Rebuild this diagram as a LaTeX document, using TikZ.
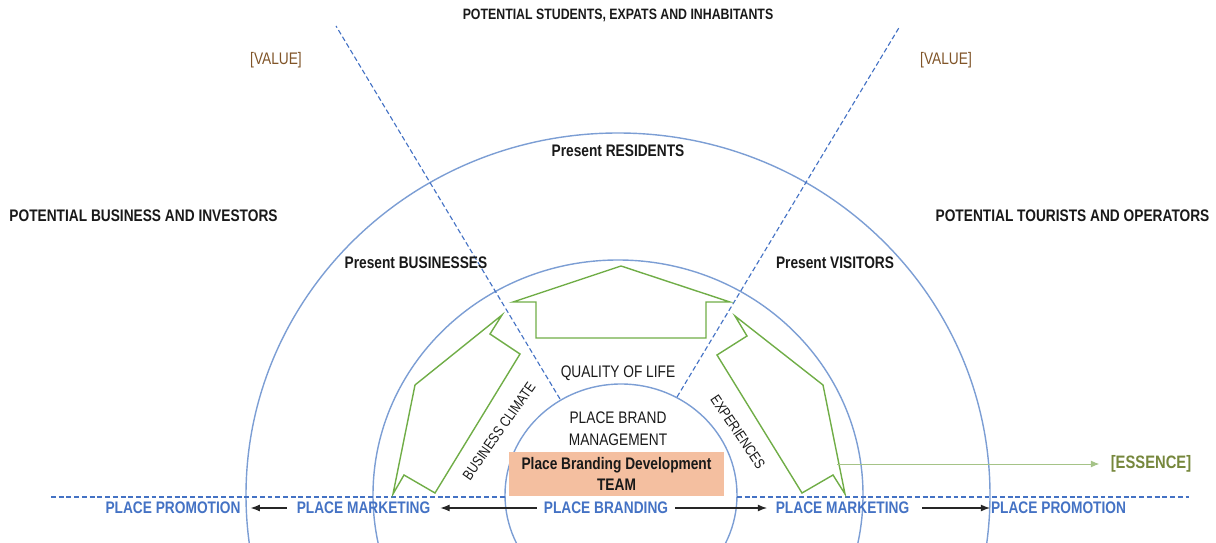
\documentclass[tikz,border=0pt]{standalone}
\usepackage{fontspec}
\newfontfamily\narrowsf[FakeStretch=0.82]{Liberation Sans}
\usetikzlibrary{arrows.meta,calc}

\definecolor{ringblue}{RGB}{124,158,212}
\definecolor{dashblue}{RGB}{68,114,196}
\definecolor{leafgreen}{RGB}{112,173,71}
\definecolor{paleleaf}{RGB}{165,195,135}
\definecolor{essgreen}{RGB}{118,135,60}
\definecolor{valuebrown}{RGB}{128,84,40}
\definecolor{teamfill}{RGB}{244,191,160}

\begin{document}
\begin{tikzpicture}[x=0.025cm,y=-0.025cm,>=Latex,
    every node/.style={font=\narrowsf\fontsize{11.9}{15.5}\selectfont,
      text=black!90,inner sep=0pt,align=center},
    bold/.style={font=\narrowsf\bfseries\fontsize{11.9}{15}\selectfont},
    slanted label/.style={font=\narrowsf\fontsize{10.4}{12}\selectfont},
    flow/.style={bold,text=dashblue},
    ring/.style={draw=ringblue,line width=1pt},
    ray/.style={draw=dashblue,line width=0.8pt,dash pattern=on 3.5pt off 2pt},
    leaf/.style={draw=leafgreen,line width=1pt},
    step arrow/.style={->,draw=black!85,line width=0.8pt}]
  \clip (0,0) rectangle (1216,543);

  % rings round the team
  \coordinate (c) at (618,495);
  \draw[ring] (621,495) ellipse [x radius=116, y radius=111];
  \draw[ring] (c) ellipse [x radius=245, y radius=235];
  \draw[ring] (c) ellipse [x radius=372, y radius=362];

  % sector borders
  \coordinate (l0) at (560,399);
  \coordinate (l1) at (336,26);
  \coordinate (r0) at (677,397);
  \coordinate (r1) at (900,26);
  \draw[ray] (l0) -- (l1);
  \draw[ray] (r0) -- (r1);
  \coordinate (h0) at (51,497);
  \coordinate (h1) at (505,497);
  \coordinate (h2) at (737,497);
  \coordinate (h3) at (1189,497);
  \draw[ray] (h0) -- (h1);
  \draw[ray] (h2) -- (h3);

  % block arrows
  \draw[leaf] (621,266) -- (513,302) -- (536,302) -- (536,338)
    -- (706,338) -- (706,302) -- (730,302) -- cycle;
  \draw[leaf] (502,315) -- (490,334) -- (520,354) -- (435,493)
    -- (404,475) -- (393,494) -- (415,385) -- cycle;
  \draw[leaf] (735,316) -- (747,336) -- (717,355) -- (802,493)
    -- (833,475) -- (845,494) -- (823,385) -- cycle;

  % audiences
  \node[bold,font=\narrowsf\bfseries\fontsize{10.7}{15}\selectfont]
    (top) at (618,15) {POTENTIAL STUDENTS, EXPATS AND INHABITANTS};
  \node[bold] (inv) at (143.5,216) {POTENTIAL BUSINESS AND INVESTORS};
  \node[bold] (tour) at (1072.5,216) {POTENTIAL TOURISTS AND OPERATORS};
  \node[text=valuebrown] (vl) at (276,60) {[VALUE]};
  \node[text=valuebrown] (vr) at (946,60) {[VALUE]};
  \node[bold] (res) at (618,151) {Present RESIDENTS};
  \node[bold] (bus) at (416,263) {Present BUSINESSES};
  \node[bold] (vis) at (835,263) {Present VISITORS};

  % inner labels
  \node (qol) at (618,373) {QUALITY OF LIFE};
  \node[slanted label,rotate=55] (clim) at (499,431) {BUSINESS CLIMATE};
  \node[slanted label,rotate=-56] (exp) at (738,432) {EXPERIENCES};
  \node (mgmt) at (618,429) {PLACE BRAND\\MANAGEMENT};
  \node[bold,fill=teamfill,minimum width=153pt,minimum height=31.3pt]
    (team) at (616.5,474) {Place Branding Development\\TEAM};

  % essence
  \coordinate (ess) at (837,464);
  \node[text=essgreen,font=\narrowsf\fontsize{12.8}{15}\selectfont\bfseries]
    (essence) at (1151,464) {[ESSENCE]};
  \draw[->,draw=paleleaf,line width=0.7pt,-{Latex[length=6pt,width=5pt]}]
    (ess) -- ([xshift=-8pt]essence.west);

  % branding -> marketing -> promotion
  \node[flow] (pb) at (606,508) {PLACE BRANDING};
  \node[flow] (pml) at (363.5,508) {PLACE MARKETING};
  \node[flow] (ppl) at (173,508) {PLACE PROMOTION};
  \node[flow] (pmr) at (842.5,508) {PLACE MARKETING};
  \node[flow] (ppr) at (1058.5,508) {PLACE PROMOTION};
  \draw[step arrow] ([xshift=-5pt]pb.west) -- ([xshift=7pt]pml.east);
  \draw[step arrow] ([xshift=-7pt]pml.west) -- ([xshift=7pt]ppl.east);
  \draw[step arrow] ([xshift=5pt]pb.east) -- ([xshift=-6pt]pmr.west);
  \draw[step arrow] ([xshift=9pt]pmr.east) -- ([xshift=-0.5pt]ppr.west);
\end{tikzpicture}
\end{document}
